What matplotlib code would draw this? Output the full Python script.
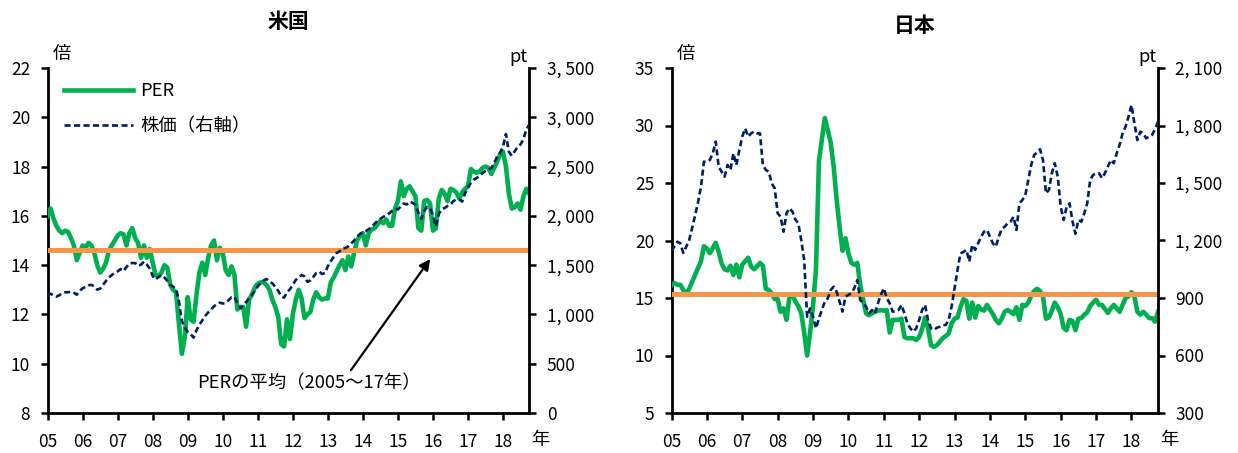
import numpy as np
import matplotlib
matplotlib.use("Agg")
import matplotlib.pyplot as plt
from matplotlib.ticker import FixedLocator, FuncFormatter

plt.rcParams['font.family'] = ['Noto Sans CJK JP', 'DejaVu Sans']

# ---- data: monthly, Jan 2005 - Oct 2018 ----
start_year = 2005
years = list(range(2005, 2019))
year_labels = [f"{y % 100:02d}" for y in years]

us_per = [
    16.0, 16.3, 15.9, 15.6, 15.4, 15.3, 15.4, 15.35, 15.1, 14.8, 14.2, 14.5,
    14.8, 14.7, 14.9, 14.8, 14.5, 14.0, 13.7, 13.85, 14.1, 14.6, 14.8, 15.0,
    15.2, 15.3, 15.25, 14.8, 15.3, 15.5, 15.1, 14.9, 14.3, 14.8, 14.3, 14.65,
    14.1, 13.6, 13.55, 13.7, 14.0, 13.9, 13.2, 13.0, 12.9, 11.6, 10.4, 11.1,
    12.7, 11.8, 11.7, 12.8, 13.7, 14.1, 13.6, 14.3, 14.8, 15.0, 14.2, 14.7,
    14.5, 13.8, 13.6, 13.95, 13.6, 12.2, 12.3, 12.3, 11.5, 12.6, 12.8, 13.1,
    13.25, 13.3, 13.3, 13.2, 13.0, 12.6, 12.3, 11.9, 10.8, 10.7, 11.8, 11.0,
    12.0, 12.6, 13.0, 12.65, 11.85, 12.0, 12.1, 12.6, 12.9, 12.7, 12.6, 12.65,
    12.65, 13.3, 13.5, 13.75, 14.0, 14.2, 13.8, 14.35, 13.95, 14.5, 15.0, 15.2,
    15.3, 14.8, 15.3, 15.45, 15.5, 15.65, 15.8, 15.7, 15.85, 15.6, 15.6, 16.3,
    16.6, 17.4, 16.8, 17.1, 17.2, 17.0, 16.8, 15.5, 15.4, 16.6, 16.65, 16.5,
    15.4, 15.5, 16.7, 17.05, 16.9, 16.6, 17.1, 17.05, 16.95, 16.7, 16.95, 17.1,
    17.2, 17.9, 17.8, 17.75, 17.8, 17.95, 18.0, 17.95, 17.7, 17.95, 18.2, 18.5,
    18.6, 18.0, 16.9, 16.3, 16.35, 16.5, 16.25, 16.8, 17.1, 16.9,
]

us_price = [
    1190, 1210, 1195, 1180, 1195, 1215, 1225, 1225, 1232, 1220, 1200, 1240,
    1265, 1280, 1295, 1300, 1285, 1251, 1262, 1300, 1340, 1375, 1400, 1420,
    1437, 1460, 1440, 1480, 1515, 1522, 1520, 1495, 1505, 1535, 1505, 1465,
    1390, 1355, 1380, 1400, 1375, 1340, 1300, 1282, 1255, 1130, 930, 870,
    820, 800, 765, 840, 895, 940, 985, 1020, 1050, 1082, 1105, 1120,
    1110, 1120, 1145, 1175, 1180, 1110, 1065, 1085, 1125, 1165, 1200, 1240,
    1285, 1319, 1345, 1359, 1336, 1315, 1280, 1240, 1184, 1170, 1225, 1255,
    1300, 1350, 1375, 1400, 1386, 1330, 1345, 1380, 1420, 1435, 1410, 1420,
    1490, 1539, 1585, 1623, 1640, 1670, 1674, 1690, 1720, 1750, 1790, 1815,
    1835, 1845, 1865, 1885, 1920, 1950, 1970, 1990, 2005, 2025, 2050, 2070,
    2065, 2096, 2125, 2115, 2145, 2132, 2113, 2030, 1970, 2050, 2090, 2080,
    2000, 1894, 2020, 2065, 2080, 2100, 2115, 2150, 2165, 2168, 2145, 2230,
    2285, 2335, 2368, 2385, 2405, 2435, 2455, 2468, 2485, 2536, 2604, 2640,
    2705, 2830, 2650, 2610, 2654, 2700, 2725, 2780, 2880, 2925,
]

jp_per = [
    16.1, 16.3, 16.15, 16.15, 15.7, 15.4, 15.8, 16.4, 17.0, 17.6, 18.2, 19.5,
    19.3, 18.9, 19.35, 19.8, 19.0, 18.0, 17.5, 17.4, 17.8, 17.0, 17.9, 16.8,
    17.9, 18.2, 18.5, 17.75, 17.5, 17.75, 18.05, 17.8, 15.8, 15.7, 15.4, 14.9,
    14.9, 13.8, 14.1, 13.1, 15.1, 15.3, 14.7, 14.3, 13.7, 12.0, 10.0, 12.0,
    14.3, 17.5, 26.9, 28.8, 30.65, 29.6, 28.5, 26.45, 23.55, 21.2, 19.1, 20.2,
    18.9, 18.05, 17.9, 18.05, 16.15, 14.85, 13.67, 13.5, 13.67, 13.8, 13.9, 13.95,
    13.9, 13.95, 12.0, 13.1, 13.1, 13.1, 13.2, 11.6, 11.5, 11.5, 11.5, 11.35,
    11.6, 12.3, 13.3, 12.4, 10.9, 10.75, 10.9, 11.2, 11.5, 11.7, 11.9, 12.8,
    13.2, 13.3, 14.2, 14.9, 14.75, 13.2, 14.6, 13.3, 14.3, 14.0, 13.9, 14.4,
    14.0, 13.6, 13.1, 12.8, 13.2, 13.8, 13.95, 13.8, 13.6, 14.2, 13.1, 14.4,
    14.3, 14.6, 15.2, 15.6, 15.8, 15.6, 15.1, 13.2, 13.3, 13.9, 14.6, 14.2,
    13.6, 12.4, 12.2, 13.1, 13.0, 12.2, 13.2, 13.25, 13.55, 13.75, 14.3, 14.6,
    14.85, 14.4, 14.4, 14.05, 13.7, 14.1, 14.4, 14.1, 13.8, 14.4, 15.0, 15.15,
    15.5, 15.15, 13.8, 13.55, 13.8, 13.55, 13.25, 13.25, 12.95, 13.8,
]

jp_price = [
    1145, 1170, 1194, 1185, 1135, 1168, 1203, 1265, 1330, 1400, 1480, 1611,
    1612, 1620, 1655, 1716, 1585, 1559, 1533, 1594, 1568, 1655, 1594, 1672,
    1742, 1785, 1742, 1759, 1768, 1759, 1759, 1594, 1568, 1559, 1498, 1472,
    1342, 1324, 1246, 1342, 1368, 1351, 1310, 1290, 1203, 1098, 802, 846,
    802, 742, 794, 837, 881, 898, 942, 959, 933, 881, 829, 907,
    916, 925, 951, 994, 890, 872, 855, 820, 837, 820, 872, 916,
    951, 900, 872, 829, 829, 837, 864, 820, 768, 742, 724, 742,
    785, 837, 864, 785, 742, 733, 745, 750, 759, 759, 785, 855,
    951, 1046, 1133, 1140, 1151, 1090, 1177, 1151, 1185, 1220, 1246, 1255,
    1220, 1185, 1168, 1220, 1260, 1272, 1290, 1298, 1324, 1255, 1394, 1411,
    1437, 1516, 1594, 1646, 1660, 1676, 1620, 1446, 1464, 1551, 1603, 1533,
    1376, 1307, 1376, 1394, 1300, 1235, 1307, 1298, 1342, 1394, 1516, 1542,
    1551, 1551, 1525, 1551, 1585, 1620, 1603, 1655, 1700, 1759, 1794, 1846,
    1907, 1811, 1724, 1768, 1759, 1733, 1742, 1751, 1780, 1820,
]

us_per_mean = 14.6   # 2005-17 average
jp_per_mean = 15.35  # 2005-17 average

us_left_ticks = [8, 10, 12, 14, 16, 18, 20, 22]
us_right_ticks = [0, 500, 1000, 1500, 2000, 2500, 3000, 3500]
jp_left_ticks = [5, 10, 15, 20, 25, 30, 35]
jp_right_ticks = [300, 600, 900, 1200, 1500, 1800, 2100]

# ---- style ----
GREEN = "#00B050"
NAVY = "#002060"
ORANGE = "#F79646"
FS = 12.5
TXT = 13.2

W, H = 1238, 453
fig = plt.figure(figsize=(W / 100, H / 100), dpi=100)


def fx(px):
    return px / W


def fy(py):
    return 1 - py / H


def thousands(v, _pos):
    return f"{v:,.0f}".replace(",", ", ")


def build_panel(left_px, right_px, per, price, mean, lticks, rticks,
                title, title_y):
    n = len(per)
    t = start_year + np.arange(n) / 12.0
    ax = fig.add_axes([fx(left_px), fy(413), fx(right_px - left_px), 345 / H])
    axr = ax.twinx()

    l_per, = ax.plot(t, per, color=GREEN, lw=3.3, solid_joinstyle='round',
                     zorder=3, label="PER")
    ax.axhline(mean, color=ORANGE, lw=3.6, zorder=4)
    l_px, = axr.plot(t, price, color=NAVY, lw=1.9, dashes=(2.3, 1.3),
                     zorder=5, label="株価（右軸）")

    xmax = start_year + n / 12.0 - 1 / 12.0
    for a in (ax, axr):
        a.set_xlim(start_year, xmax)
    ax.set_ylim(lticks[0], lticks[-1])
    axr.set_ylim(rticks[0], rticks[-1])

    ax.xaxis.set_major_locator(FixedLocator(years))
    ax.set_xticklabels(year_labels)
    ax.yaxis.set_major_locator(FixedLocator(lticks))
    axr.yaxis.set_major_locator(FixedLocator(rticks))
    axr.yaxis.set_major_formatter(FuncFormatter(thousands))

    for a in (ax, axr):
        a.spines['top'].set_visible(False)
        for s in a.spines.values():
            s.set_linewidth(2.0)
    ax.spines['right'].set_visible(False)
    axr.spines['left'].set_visible(False)
    axr.spines['bottom'].set_visible(False)

    ax.tick_params(axis='y', direction='out', length=5, width=1.8,
                   labelsize=FS, pad=7.5)
    ax.tick_params(axis='x', direction='out', length=5, width=1.8,
                   labelsize=FS, pad=9.5)
    axr.tick_params(axis='y', direction='out', length=5, width=1.8,
                    labelsize=FS, pad=7.5)

    cx = (left_px + right_px) / 2
    fig.text(fx(cx), fy(title_y), title, ha='center', va='center',
             fontsize=15, fontweight='bold')
    fig.text(fx(left_px + 14), fy(54), "倍", ha='center', va='center',
             fontsize=TXT)
    fig.text(fx(right_px - 2), fy(57), "pt", ha='right', va='center',
             fontsize=TXT)
    fig.text(fx(right_px + 11), fy(440), "年", ha='center', va='center',
             fontsize=TXT)
    return ax, axr, l_per, l_px


ax_us, axr_us, h_per, h_px = build_panel(47.6, 529.3, us_per, us_price,
                                          us_per_mean, us_left_ticks,
                                          us_right_ticks, "米国", 21)
ax_jp, axr_jp, _, _ = build_panel(671.5, 1158, jp_per, jp_price,
                                  jp_per_mean, jp_left_ticks,
                                  jp_right_ticks, "日本", 25)

leg = axr_us.legend(handles=[h_per, h_px], loc='upper left',
                    bbox_to_anchor=(16 / 481.7, 1 - 14 / 345), frameon=False,
                    fontsize=TXT, handlelength=3.8, handletextpad=0.4,
                    borderpad=0, borderaxespad=0, labelspacing=0.95)

# arrow and label for the average line
ax_us.annotate("", xy=(2015.92, 14.25), xytext=(2013.66, 9.74),
               arrowprops=dict(arrowstyle='-|>', color='black', lw=1.6,
                               mutation_scale=16, shrinkA=0, shrinkB=0))
ax_us.text(2012.46, 9.2, "PERの平均（2005～17年）", ha='center', va='center',
           fontsize=TXT)

fig.savefig("out.png", dpi=100)
